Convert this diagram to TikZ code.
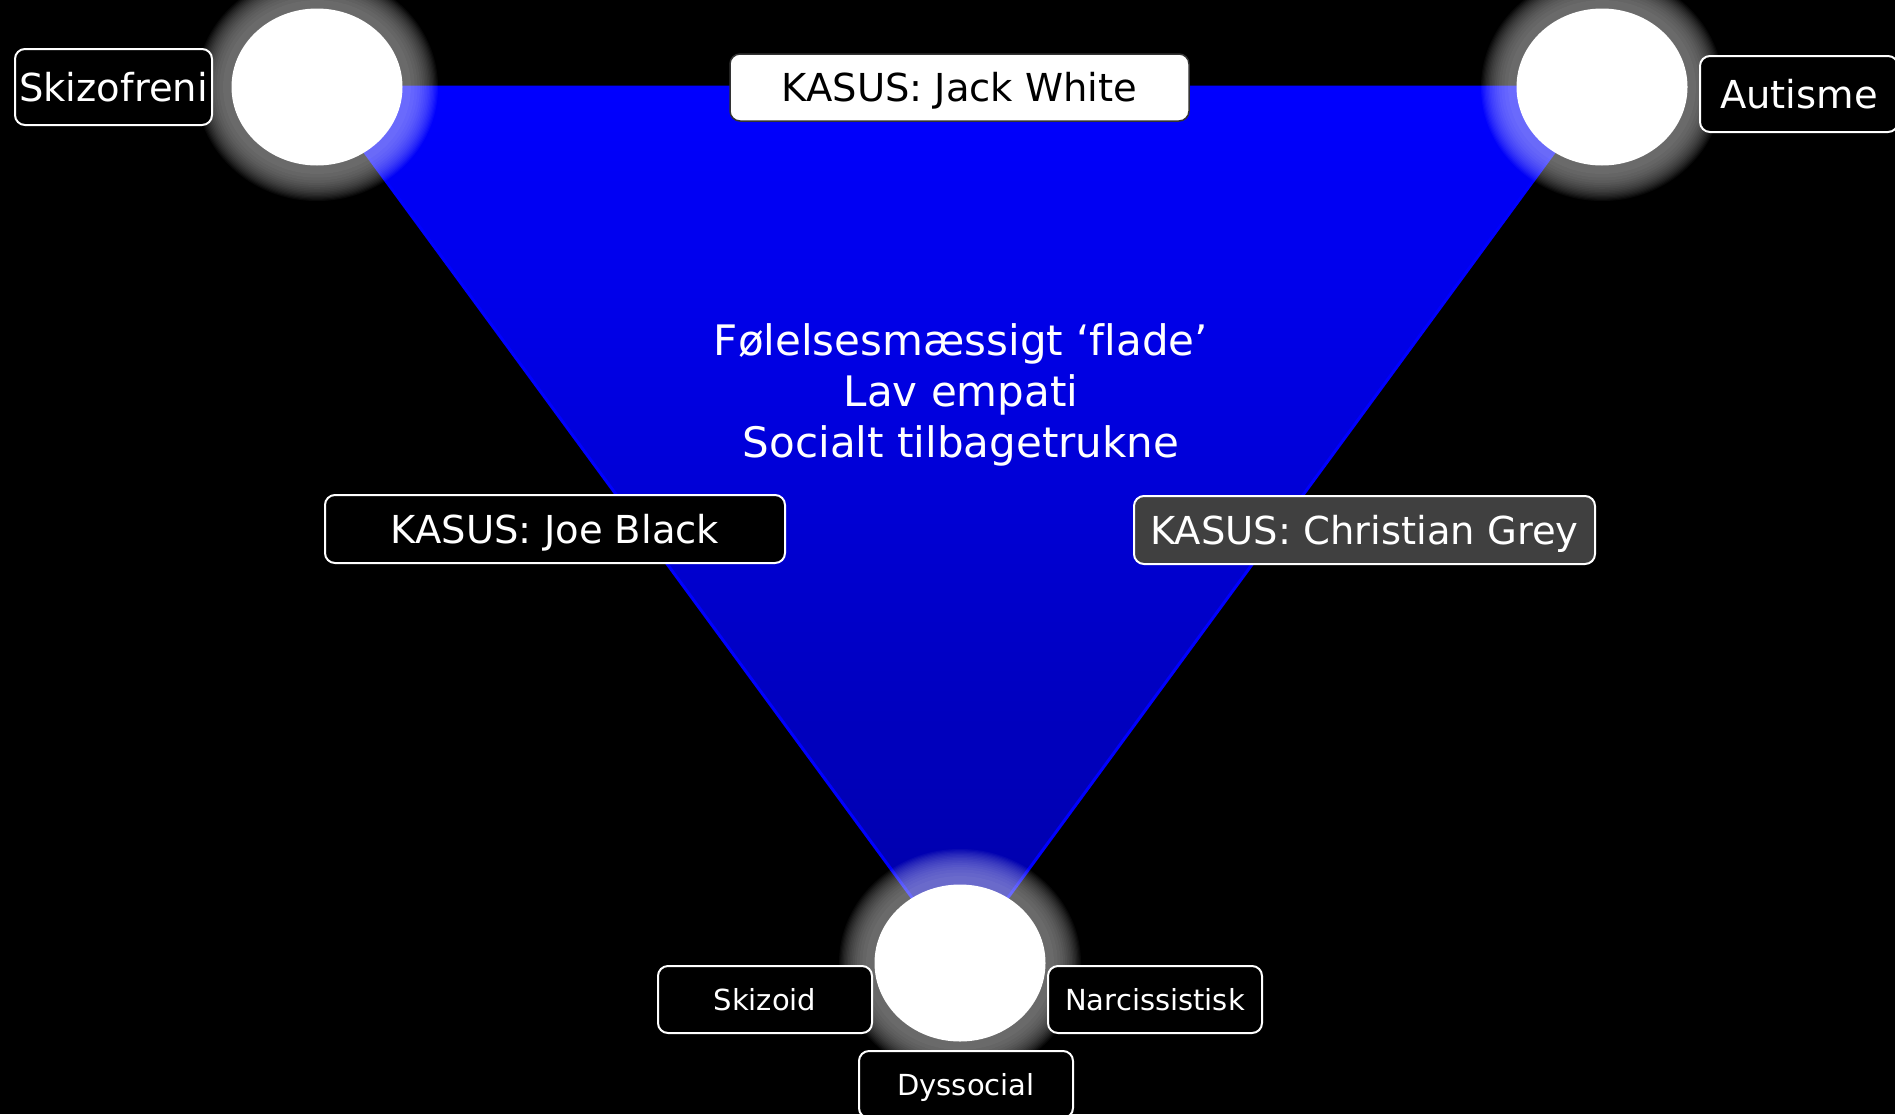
\documentclass[tikz,border=0pt]{standalone}
\usepackage{fontspec}
\setmainfont{DejaVu Sans}[Ligatures=NoCommon]
\usetikzlibrary{shapes.geometric}

\begin{document}
\begin{tikzpicture}[x=1pt, y=-1pt,
    tag/.style={draw=white, line width=2pt, rounded corners=10pt, fill=black,
        text=white, inner sep=0pt, text height=28pt, text depth=0pt,
        font=\fontsize{38.5}{46}\selectfont},
    smalltag/.style={tag, font=\fontsize{29}{35}\selectfont, text height=21pt,
        minimum width=214pt, minimum height=67pt},
    blob/.style={ellipse, fill=white, inner sep=0pt,
        minimum width=171pt, minimum height=157pt}]

    \fill[black] (0,0) rectangle (1895,1114);
    \useasboundingbox (0,0) rectangle (1895,1114);

    \coordinate (p1) at (317, 87);
    \coordinate (p2) at (1602, 87);
    \coordinate (p3) at (960, 963);

    \shade[top color=blue, bottom color=blue!65!black, draw=blue, line width=3pt]
        (p1) -- (p2) -- (p3) -- cycle;

    % halo: thin white layers stacked round each circle
    \foreach \c in {p1, p2, p3}
        \foreach \k in {1,...,16}
            \fill[white, opacity=0.036] (\c) ellipse
                [x radius={85+36*sqrt(\k/16)}, y radius={78+36*sqrt(\k/16)}];

    \node[blob] (c1) at (p1) {};
    \node[blob] (c2) at (p2) {};
    \node[blob] (c3) at (p3) {};

    \node[tag, minimum width=197pt, minimum height=76pt] (skz) at (113.5, 87) {Skizofreni};
    \node[tag, minimum width=198pt, minimum height=76pt] (aut) at (1799, 94) {Autisme};
    \node[tag, fill=white, text=black, draw=black!80, line width=1.5pt,
        minimum width=459pt, minimum height=67pt] (jack) at (959.5, 87.5) {KASUS: Jack White};
    \node[tag, minimum width=460pt, minimum height=68pt] (joe) at (555, 529) {KASUS: Joe Black};
    \node[tag, fill=black!75, minimum width=461pt, minimum height=68pt] (grey) at (1364.5, 530) {KASUS: Christian Grey};

    \node[smalltag] (szd) at (765, 999.5) {Skizoid};
    \node[smalltag] (nar) at (1155, 999.5) {Narcissistisk};
    \node[smalltag] (dys) at (966, 1084.5) {Dyssocial};

    \node[text=white, align=center, font=\fontsize{42}{51}\selectfont] (traits) at (961, 395)
        {Følelsesmæssigt ‘flade’\\Lav empati\\Socialt tilbagetrukne};
\end{tikzpicture}
\end{document}
